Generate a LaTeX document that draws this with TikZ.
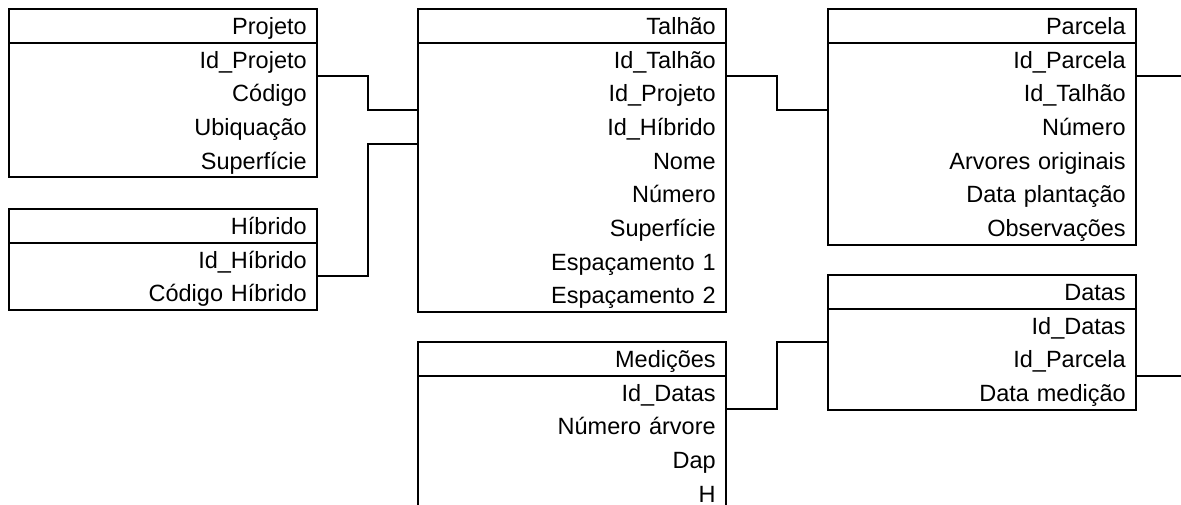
\documentclass[tikz,border=0pt]{standalone}
\usepackage{fontspec}
\setmainfont{Liberation Sans}
\tikzset{
  rowbox/.style={text width=287pt, align=right, inner xsep=10.5pt, inner ysep=0pt,
    text height=25.25pt, text depth=8pt, font=\fontsize{23.5}{28}\selectfont},
  ln/.style={line width=2pt, black},
}
\newcommand{\erbox}[6]{%
  \node[rowbox, anchor=north west] (#1-0) at (#2,#3) {#4};
  \foreach \f [count=\i from 1] in {#5} {
    \pgfmathtruncatemacro\j{\i-1}
    \node[rowbox, anchor=north] (#1-\i) at (#1-\j.south) {\f};
  }
  \draw[ln] (#1-0.north west) rectangle (#1-#6.south east);
  \draw[ln] (#1-0.south west) -- (#1-0.south east);
}
\begin{document}
\begin{tikzpicture}[x=1pt,y=-1pt]
\useasboundingbox (0,0) rectangle (1181,504);
\clip (0,0) rectangle (1181,504);
\erbox{P}{9}{9}{Projeto}{Id\_Projeto,Código,Ubiquação,Superfície}{4}
\erbox{H}{9}{209}{Híbrido}{Id\_Híbrido,Código Híbrido}{2}
\erbox{T}{418}{9}{Talhão}{Id\_Talhão,Id\_Projeto,Id\_Híbrido,Nome,Número,Superfície,Espaçamento 1,Espaçamento 2}{8}
\erbox{Pa}{828}{9}{Parcela}{Id\_Parcela,Id\_Talhão,Número,Arvores originais,Data plantação,Observações}{6}
\erbox{D}{828}{275}{Datas}{Id\_Datas,Id\_Parcela,Data medição}{3}
\erbox{M}{418}{342}{Medições}{Id\_Datas,Número árvore,Dap,H}{4}
\coordinate (edge) at (1181,0);
\draw[ln] (P-1.south east) -- ++(51,0) |- (T-2.south west);
\draw[ln] (H-1.south east) -- ++(51,0) |- (T-3.south west);
\draw[ln] (T-1.south east) -- ++(51,0) |- (Pa-2.south west);
\draw[ln] (M-1.south east) -- ++(51,0) |- (D-1.south west);
\draw[ln] (Pa-1.south east) -- (Pa-1.south east -| edge);
\draw[ln] (D-2.south east) -- (D-2.south east -| edge);
\end{tikzpicture}
\end{document}
